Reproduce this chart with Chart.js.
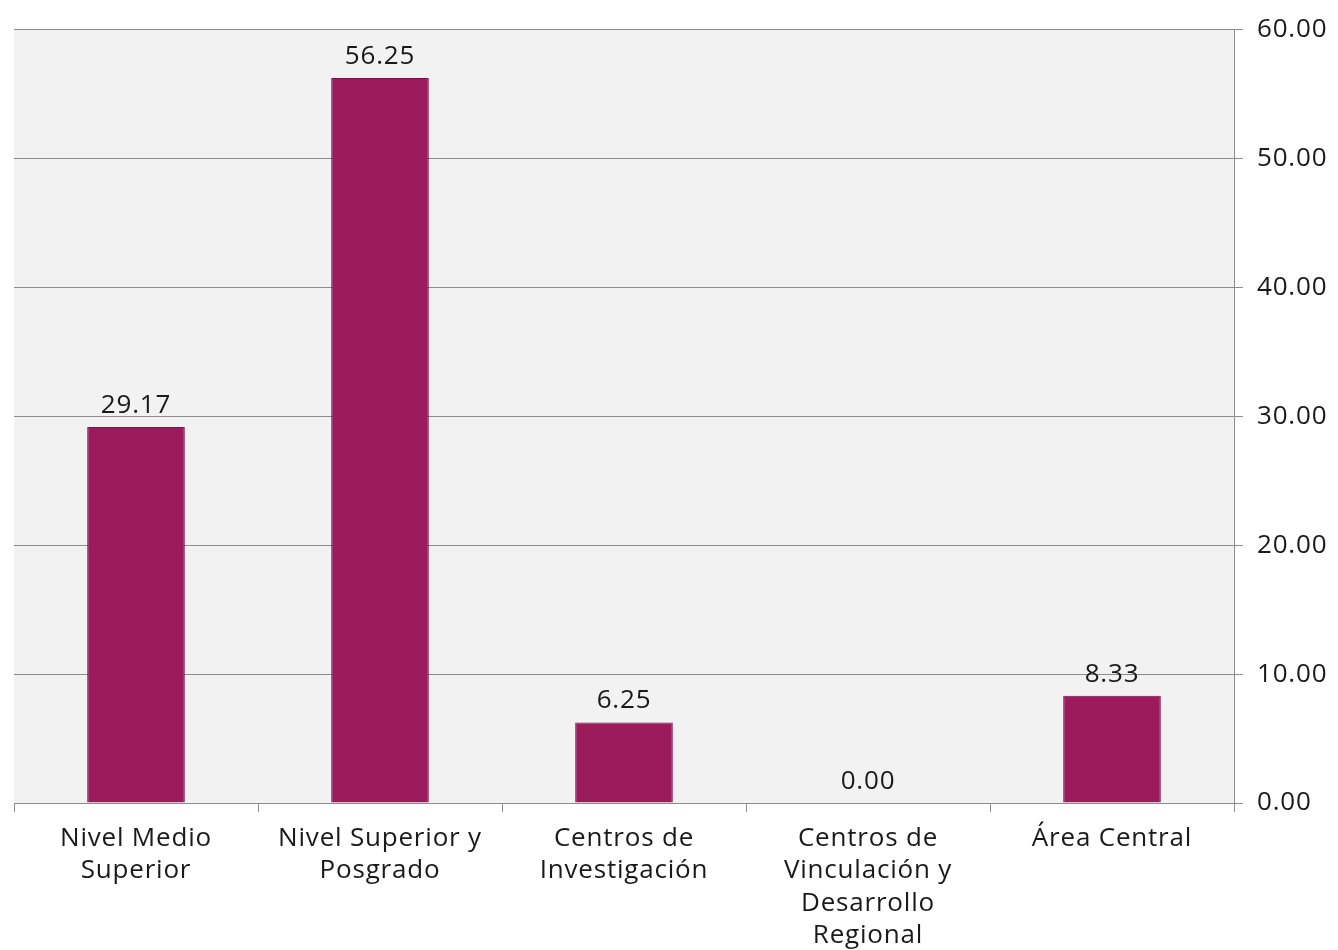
<!DOCTYPE html>
<html>
<head>
<meta charset="utf-8">
<script src="https://cdn.jsdelivr.net/npm/chart.js@4/dist/chart.umd.min.js"></script>
<style>
html,body{margin:0;padding:0;background:#fff;}
#wrap{width:1338px;height:950px;position:relative;}
</style>
</head>
<body>
<div id="wrap"><canvas id="c" width="1338" height="950"></canvas></div>
<script>
const categories = [
  ["Nivel Medio","Superior"],
  ["Nivel Superior y","Posgrado"],
  ["Centros de","Investigación"],
  ["Centros de","Vinculación y","Desarrollo","Regional"],
  ["Área Central"]
];
const values = [29.17, 56.25, 6.25, 0.00, 8.33];
const yTicks = [0, 10, 20, 30, 40, 50, 60];

const FONT = "'Open Sans', 'DejaVu Sans', sans-serif";
const GRID = '#8c8c8c';

const bgPlugin = {
  id: 'bg',
  beforeDraw(chart) {
    const {ctx, chartArea: a} = chart;
    ctx.fillStyle = '#F2F2F2';
    ctx.fillRect(a.left, a.top, a.right - a.left, a.bottom - a.top);
    try { ctx.letterSpacing = '0.8px'; } catch (e) {}
  }
};

const labelPlugin = {
  id: 'vals',
  afterDatasetsDraw(chart) {
    const {ctx} = chart;
    const meta = chart.getDatasetMeta(0);
    ctx.save();
    ctx.font = '26px ' + FONT;
    ctx.fillStyle = '#1a1a1a';
    ctx.textAlign = 'center';
    ctx.textBaseline = 'alphabetic';
    meta.data.forEach((bar, i) => {
      ctx.fillText(values[i].toFixed(2), bar.x, bar.y - 14);
    });
    ctx.restore();
  }
};

new Chart(document.getElementById('c'), {
  type: 'bar',
  data: {
    labels: categories,
    datasets: [{
      data: values,
      backgroundColor: '#9B1B5C',
      borderColor: '#7a1046',
      borderWidth: 1,
      barPercentage: 0.4,
      categoryPercentage: 1.0
    }]
  },
  options: {
    responsive: false,
    animation: false,
    layout: { padding: { left: 14, top: 29, right: 0, bottom: 0 } },
    plugins: { legend: { display: false }, tooltip: { enabled: false } },
    scales: {
      x: {
        offset: true,
        grid: { display: true, drawOnChartArea: false, drawTicks: true, tickLength: 9, color: GRID, offset: true },
        border: { display: true, color: GRID, width: 1 },
        ticks: { color: '#1a1a1a', font: { family: FONT, size: 26, lineHeight: 1.25 }, padding: 10, maxRotation: 0, autoSkip: false },
        afterFit(s) { s.height = 147; }
      },
      y: {
        position: 'right',
        min: 0, max: 60,
        afterBuildTicks(s) { s.ticks = yTicks.map(v => ({value: v})); },
        grid: { color: GRID, tickLength: 9, drawTicks: true },
        border: { display: true, color: GRID, width: 1 },
        ticks: {
          color: '#1a1a1a',
          font: { family: FONT, size: 26 },
          padding: 14,
          callback: v => Number(v).toFixed(2)
        },
        afterFit(s) { s.width = 104; }
      }
    }
  },
  plugins: [bgPlugin, labelPlugin]
});
</script>
</body>
</html>
